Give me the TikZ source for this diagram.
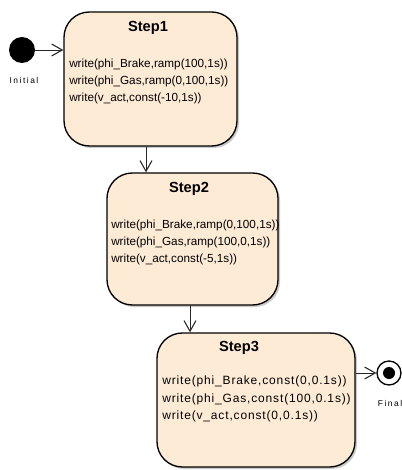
\documentclass[tikz,border=0pt]{standalone}
\usepackage{fontspec}
\setmainfont{Liberation Sans}
\usetikzlibrary{arrows.meta,shadows}
\definecolor{stepfill}{RGB}{253,235,214}
\tikzset{
  stepbox/.style={draw, line width=1pt, rounded corners=19pt, fill=stepfill,
    drop shadow={shadow xshift=1.5pt, shadow yshift=-1.5pt, fill=gray!70, opacity=.6}},
  steptitle/.style={font=\fontsize{11}{13}\selectfont\bfseries},
  stepcode/.style={align=left, anchor=west, inner sep=0pt, font=\fontsize{8.8}{12.75}\selectfont},
  trans/.style={-{Straight Barb[length=8pt,width=9pt,line width=.8pt]}, line width=.7pt, black!85},
  small/.style={font=\fontsize{6.3}{7}\selectfont\addfontfeature{LetterSpace=18}}
}
\begin{document}
\begin{tikzpicture}[x=0.75pt,y=-0.75pt]
  \useasboundingbox (0,0) rectangle (401,470);
  % initial state
  \node[circle, fill=black, minimum size=19.5pt, inner sep=0pt] (init) at (22,50) {};
  \node[small] (initlabel) at (24,80) {Initial};
  % steps
  \node[stepbox, minimum width=129.75pt, minimum height=100.5pt] (step1) at (150.5,79) {};
  \node[steptitle] (step1title) at (148,28) {Step1};
  \node[stepcode] (step1text) at (69,81) {write(phi\_Brake,ramp(100,1s))\\write(phi\_Gas,ramp(0,100,1s))\\write(v\_act,const(-10,1s))};

  \node[stepbox, minimum width=128.25pt, minimum height=99pt] (step2) at (192.5,239) {};
  \node[steptitle] (step2title) at (189,189) {Step2};
  \node[stepcode] (step2text) at (111,242) {write(phi\_Brake,ramp(0,100,1s))\\write(phi\_Gas,ramp(100,0,1s))\\write(v\_act,const(-5,1s))};

  \node[stepbox, minimum width=148.5pt, minimum height=100.5pt] (step3) at (256,400) {};
  \node[steptitle] (step3title) at (239,348) {Step3};
  \node[stepcode, font=\fontsize{9}{13}\selectfont\addfontfeature{LetterSpace=7}] (step3text) at (162,399) {write(phi\_Brake,const(0,0.1s))\\write(phi\_Gas,const(100,0.1s))\\write(v\_act,const(0,0.1s))};
  % final state
  \node[circle, draw, line width=1pt, fill=white, minimum size=18pt, inner sep=0pt] (final) at (389,373) {};
  \fill (final) circle (4.5pt);
  \node[small] (finallabel) at (390,403) {Final};
  % transitions
  \draw[trans] (init) -- (init -| step1.west);
  \draw[trans] (step1.south -| 146,0) -- (step2.north -| 146,0);
  \draw[trans] (step2.south -| 190,0) -- (step3.north -| 190,0);
  \draw[trans] (step3.east |- final) -- (final);
\end{tikzpicture}
\end{document}
